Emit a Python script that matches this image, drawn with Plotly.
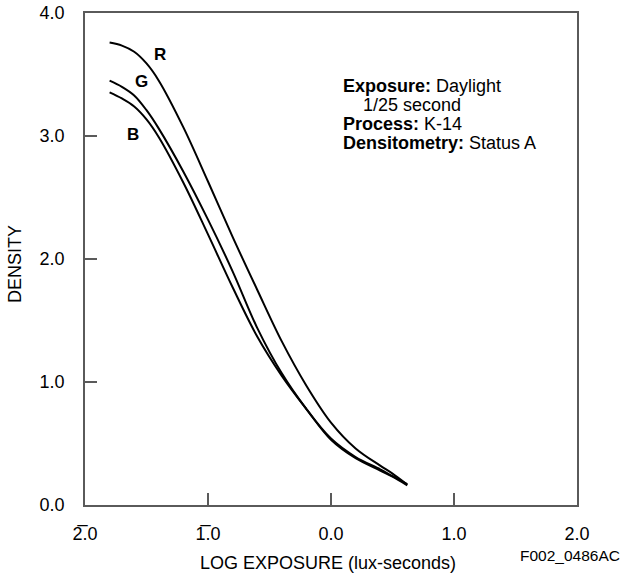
import plotly.graph_objects as go

# Log exposure (lux-seconds) sample points
log_exposure = [-1.8, -1.7, -1.6, -1.5, -1.4, -1.2, -1.0, -0.8, -0.6, -0.4, -0.2, 0.0, 0.2, 0.4, 0.5, 0.62]

# Density values per layer
density_r = [3.76, 3.735, 3.685, 3.59, 3.45, 3.07, 2.63, 2.18, 1.75, 1.33, 0.97, 0.67, 0.46, 0.32, 0.255, 0.165]
density_g = [3.45, 3.40, 3.33, 3.21, 3.06, 2.71, 2.32, 1.90, 1.44, 1.07, 0.78, 0.54, 0.39, 0.29, 0.235, 0.17]
density_b = [3.355, 3.305, 3.24, 3.135, 2.99, 2.62, 2.20, 1.77, 1.37, 1.05, 0.78, 0.53, 0.38, 0.28, 0.23, 0.16]

series_names = ["R", "G", "B"]
label_pos_x = [-1.39, -1.54, -1.61]
label_pos_y = [3.66, 3.44, 3.01]

x_tickvals = [-2, -1, 0, 1, 2]
x_ticktext = ["2\u0305.0", "1\u0305.0", "0.0", "1.0", "2.0"]
y_tickvals = [0, 1, 2, 3, 4]
y_ticktext = ["0.0", "1.0", "2.0", "3.0", "4.0"]

info_lines = ["<b>Exposure:</b> Daylight", "\u00a0\u00a0\u00a0\u00a01/25 second",
              "<b>Process:</b> K-14", "<b>Densitometry:</b> Status A"]

FONT = "Arial, 'Liberation Sans', Helvetica, sans-serif"
AXIS_COLOR = "#5a5a5a"

fig = go.Figure()
for name, dens in zip(series_names, [density_r, density_g, density_b]):
    fig.add_trace(go.Scatter(
        x=log_exposure, y=dens, mode="lines", name=name,
        line=dict(color="black", width=2, shape="spline", smoothing=1.0),
        showlegend=False, hoverinfo="skip",
    ))

for name, lx, ly in zip(series_names, label_pos_x, label_pos_y):
    fig.add_annotation(x=lx, y=ly, text=f"<b>{name}</b>", showarrow=False,
                       font=dict(family=FONT, size=17, color="black"))

for i, line in enumerate(info_lines):
    fig.add_annotation(
        x=0.08, y=3.41, xanchor="left", yanchor="middle", align="left",
        yshift=-19 * i, showarrow=False, text=line,
        font=dict(family=FONT, size=18, color="black"),
    )

# axis titles and figure code
fig.add_annotation(x=0.494, y=-0.118, xref="paper", yref="paper",
                   xanchor="center", yanchor="middle", showarrow=False,
                   text="LOG EXPOSURE (lux-seconds)",
                   font=dict(family=FONT, size=18, color="black"))
fig.add_annotation(x=-0.142, y=0.49, xref="paper", yref="paper",
                   xanchor="center", yanchor="middle", showarrow=False,
                   textangle=-90, text="DENSITY",
                   font=dict(family=FONT, size=18, color="black"))
fig.add_annotation(x=1.0915, y=-0.102, xref="paper", yref="paper",
                   xanchor="right", yanchor="middle", showarrow=False,
                   text="F002_0486AC",
                   font=dict(family=FONT, size=15.5, color="black"))

fig.update_xaxes(
    range=[-2, 2], tickvals=x_tickvals, ticktext=x_ticktext,
    ticks="inside", ticklen=12, tickwidth=1.5, tickcolor=AXIS_COLOR,
    showline=True, linecolor=AXIS_COLOR, linewidth=1.5, mirror=True,
    showgrid=False, zeroline=False, automargin=False, ticklabelstandoff=12,
    ticklabeloverflow="allow",
    tickfont=dict(family=FONT, size=18, color="black"),
)
fig.update_yaxes(
    range=[0, 4], tickvals=y_tickvals, ticktext=y_ticktext,
    ticks="inside", ticklen=12, tickwidth=1.5, tickcolor=AXIS_COLOR,
    showline=True, linecolor=AXIS_COLOR, linewidth=1.5, mirror=True,
    showgrid=False, zeroline=False, automargin=False, ticklabelstandoff=15,
    ticklabeloverflow="allow",
    tickfont=dict(family=FONT, size=18, color="black"),
)

fig.update_layout(
    width=624, height=576,
    margin=dict(l=85, r=47, t=13, b=71),
    paper_bgcolor="white", plot_bgcolor="white",
)

fig.write_html(
    "out.html",
    config={"displayModeBar": False},
    post_script="document.body.style.margin='0px';document.body.style.overflow='hidden';",
)
